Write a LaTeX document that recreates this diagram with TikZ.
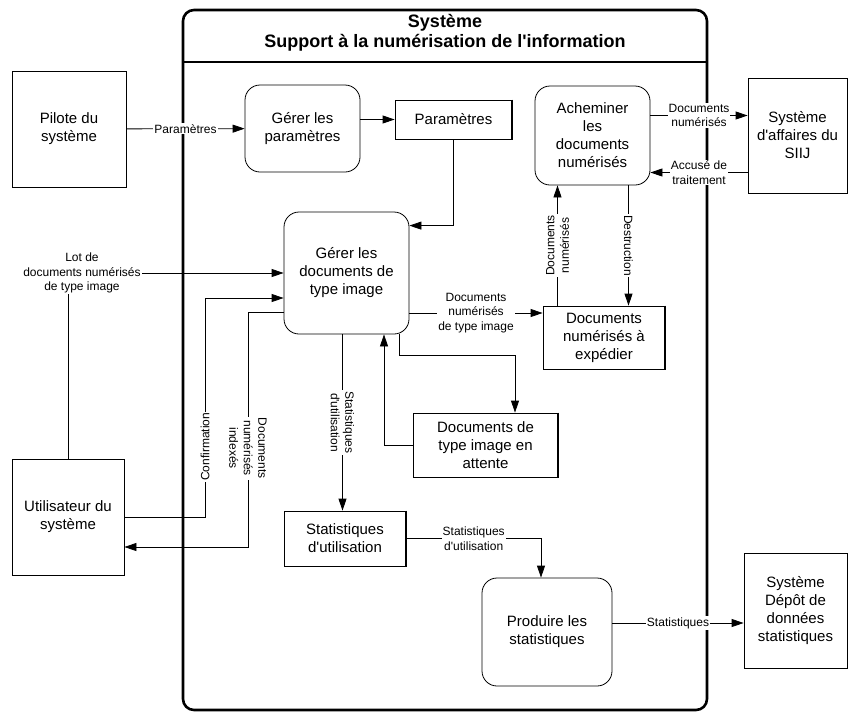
\documentclass[tikz,border=0pt]{standalone}
\usepackage{fontspec}
\setmainfont{Liberation Sans}[Ligatures=TeXOff]
\usetikzlibrary{
        arrows.meta,
        positioning
    }

\begin{document}
\begin{tikzpicture}
[x=1pt, y=-1pt,
baseshape/.style={draw=black, line width=0.8pt, align=center, inner sep=2pt, font=\fontsize{15}{18}\selectfont},
process/.style={baseshape, rectangle, rounded corners=15pt},
extern/.style={baseshape, rectangle},
datastore/.style={baseshape, rectangle},
sysbox/.style={draw=black, line width=2.6pt, rounded corners=11pt, minimum width=524pt, minimum height=700pt},
titre/.style={align=center, font=\bfseries\fontsize{18}{20}\selectfont},
flowlabel/.style={fill=white, align=center, inner sep=1pt, font=\fontsize{12}{14.5}\selectfont},
arrow/.style={line width=0.8pt, -{Triangle[length=12pt, width=8pt]}},
]
\useasboundingbox (0,0) rectangle (850,713);

% frontiere du systeme
\node (sys) [sysbox] at (445,360) {};
\coordinate (sepl) at (183,62);
\coordinate (sepr) at (707,62);
\draw [line width=2pt] (sepl) -- (sepr);
\node (titre) [titre] at (445,33) {Système\\Support à la numérisation de l'information};

% entites externes
\node (pilote) [extern, minimum width=114pt, minimum height=116pt] at (69,129) {Pilote du\\système};
\node (util) [extern, minimum width=112pt, minimum height=116pt] at (68,517) {Utilisateur du\\système};
\node (siij) [extern, minimum width=99pt, minimum height=115pt] at (797.5,135.5) {Système\\d'affaires du\\SIIJ};
\node (depot) [extern, minimum width=103pt, minimum height=115pt] at (795.5,610.5) {Système\\Dépôt de\\données\\statistiques};

% processus
\node (gparam) [process, minimum width=115pt, minimum height=87pt] at (302.5,128.5) {Gérer les\\paramètres};
\node (gdocs) [process, minimum width=125pt, minimum height=122pt] at (346.5,273) {Gérer les\\documents de\\type image};
\node (achem) [process, minimum width=115pt, minimum height=99pt] at (592.5,135.5) {Acheminer\\les\\documents\\numérisés};
\node (produire) [process, minimum width=130pt, minimum height=108pt] at (547,632) {Produire les\\statistiques};

% depots de donnees
\node (param) [datastore, minimum width=117pt, minimum height=39pt] at (453.5,119.5) {Paramètres};
\node (expedier) [datastore, minimum width=122pt, minimum height=63pt] at (604,337.5) {Documents\\numérisés à\\expédier};
\node (attente) [datastore, minimum width=145pt, minimum height=64pt] at (485.5,445) {Documents de\\type image en\\attente};
\node (stats) [datastore, minimum width=122pt, minimum height=55pt] at (345,538.5) {Statistiques\\d'utilisation};
\foreach \s in {param, expedier, attente, stats}
    \draw [line width=2pt] (\s.north east) -- (\s.south east);

\coordinate (attbend) at (515,355);
\coordinate (confbend) at (205,298);
\coordinate (idxbend) at (248,547);

% flux
\draw [arrow] (pilote) -- node[flowlabel]{Paramètres} (gparam);
\draw [arrow] (gparam.east |- param.west) -- (param.west);
\draw [arrow] (param.south) |- ([yshift=-14pt]gdocs.north east);

\draw [arrow] ([yshift=20pt]achem.east) -- node[flowlabel]{Documents\\numérisés} ([yshift=20pt]achem.east -| siij.west);
\draw [arrow] ([yshift=-37pt]achem.east -| siij.west) -- node[flowlabel]{Accusé de\\traitement} ([yshift=-37pt]achem.east);
\draw [arrow] ([xshift=36pt]achem.south) -- node[flowlabel, rotate=-90]{Destruction} ([xshift=36pt]achem.south |- expedier.north);
\draw [arrow] ([xshift=-35pt]achem.south |- expedier.north) -- node[flowlabel, rotate=90]{Documents\\numérisés} ([xshift=-35pt]achem.south);

\draw [arrow] ([yshift=-40pt]gdocs.east) -- node[flowlabel]{Documents\\numérisés\\de type image} ([yshift=-40pt]gdocs.east -| expedier.west);
\draw [arrow] ([xshift=53pt]gdocs.south) |- (attbend) -- (attbend |- attente.north);
\draw [arrow] (attente.west) -| ([xshift=37.5pt]gdocs.south);
\draw [arrow] ([xshift=-4pt]gdocs.south) -- node[flowlabel, rotate=-90]{Statistiques\\d'utilisation} ([xshift=-4pt]gdocs.south |- stats.north);
\draw [arrow] (stats.east) -| node[flowlabel, pos=0.25]{Statistiques\\d'utilisation} ([xshift=-6pt]produire.north);
\draw [arrow] ([yshift=9pt]produire.east) -- node[flowlabel]{Statistiques} ([yshift=9pt]produire.east -| depot.west);

\draw [arrow] (util.north) |- node[flowlabel, pos=0.5, xshift=14pt]{Lot de\\documents numérisés\\de type image} (gdocs.west);
\draw [arrow] (util.east) -| node[flowlabel, rotate=90, pos=0.66]{Confirmation} (confbend) -- (confbend -| gdocs.west);
\draw [arrow] ([yshift=-39pt]gdocs.west) -| node[flowlabel, rotate=-90, pos=0.79]{Documents\\numérisés\\indexés} (idxbend) -- (idxbend -| util.east);

\end{tikzpicture}
\end{document}
